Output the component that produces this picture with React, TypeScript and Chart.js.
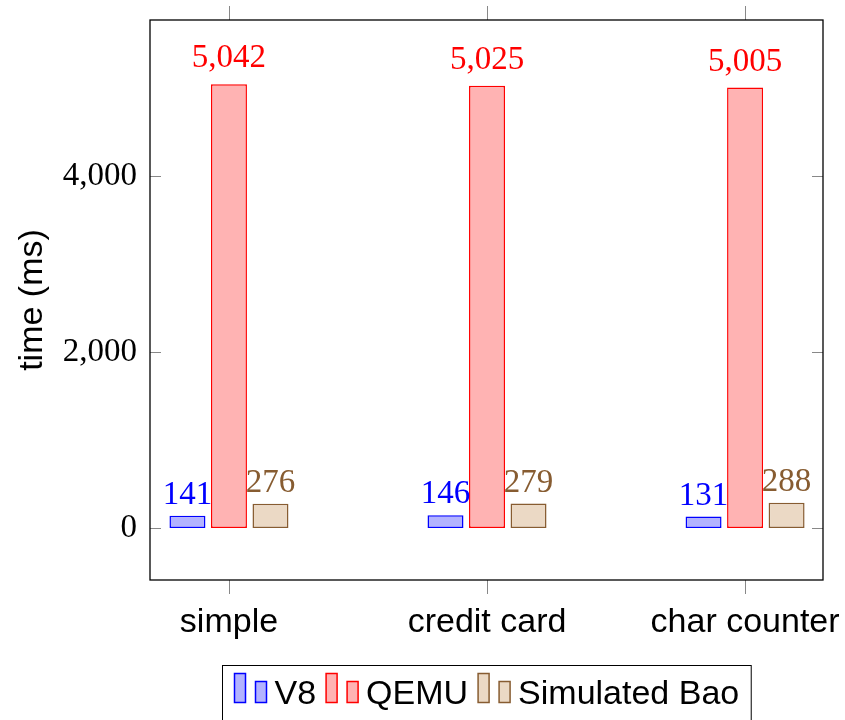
import React, { useEffect, useRef } from "react";
import { Chart, registerables } from "chart.js";

Chart.register(...registerables);

// ---- data ----
const categories = ["simple", "credit card", "char counter"];
const seriesNames = ["V8", "QEMU", "Simulated Bao"];
const v8Times = [141, 146, 131];
const qemuTimes = [5042, 5025, 5005];
const baoTimes = [276, 279, 288];
const yTickValues = [0, 2000, 4000];
const yAxisTitle = "time (ms)";

// ---- styling ----
const fills = ["#b3b3ff", "#ffb3b3", "#ebd9c5"];
const strokes = ["#0000ff", "#ff0000", "#875c31"];
const SANS = "'Liberation Sans', Arial, sans-serif";
const SERIF = "'Liberation Serif', 'Times New Roman', serif";

const fmt = (v: number) => v.toLocaleString("en-US");

const zeroPad = (s: any) => {
  s.paddingTop = 0;
  s.paddingBottom = 0;
  s.paddingLeft = 0;
  s.paddingRight = 0;
};

const framePlugin = {
  id: "frame",
  afterDraw(chart: any) {
    const { ctx, chartArea: a, scales } = chart;
    ctx.save();
    ctx.strokeStyle = "#888888";
    ctx.lineWidth = 1;
    const xs = scales.x;
    xs.ticks.forEach((t: any) => {
      const px = Math.round(xs.getPixelForValue(t.value)) + 0.5;
      ctx.beginPath();
      ctx.moveTo(px, a.top - 14);
      ctx.lineTo(px, a.top);
      ctx.moveTo(px, a.bottom);
      ctx.lineTo(px, a.bottom + 14);
      ctx.stroke();
    });
    const ys = scales.y;
    ys.ticks.forEach((t: any) => {
      const py = Math.round(ys.getPixelForValue(t.value)) + 0.5;
      ctx.beginPath();
      ctx.moveTo(a.left, py);
      ctx.lineTo(a.left + 11, py);
      ctx.moveTo(a.right - 11, py);
      ctx.lineTo(a.right, py);
      ctx.stroke();
    });
    ctx.strokeStyle = "#000000";
    ctx.lineWidth = 1.3;
    ctx.strokeRect(a.left, a.top, a.right - a.left, a.bottom - a.top);
    ctx.restore();
  },
};

const valueLabelPlugin = {
  id: "valueLabels",
  afterDatasetsDraw(chart: any) {
    const { ctx } = chart;
    ctx.save();
    ctx.font = `33px ${SERIF}`;
    ctx.textAlign = "center";
    ctx.textBaseline = "alphabetic";
    chart.data.datasets.forEach((ds: any, di: number) => {
      const meta = chart.getDatasetMeta(di);
      ctx.fillStyle = ds.borderColor;
      meta.data.forEach((el: any, i: number) => {
        const txt = fmt(ds.data[i].y);
        const m = ctx.measureText(txt);
        const desc = Math.max(0, m.actualBoundingBoxDescent || 0);
        ctx.fillText(txt, el.x, el.y - 12 - desc);
      });
    });
    ctx.restore();
  },
};

const legendPlugin = {
  id: "boxLegend",
  afterDraw(chart: any) {
    const { ctx, chartArea: a } = chart;
    ctx.save();
    ctx.font = `34px ${SANS}`;
    const iconW = 11;
    const widths = chart.data.datasets.map((ds: any) => ctx.measureText(ds.label).width);
    const itemW = widths.map((w: number) => iconW + 10 + iconW + 8 + w);
    const gap = 10;
    const pad = 12;
    const total = itemW.reduce((s: number, w: number) => s + w, 0) + gap * (itemW.length - 1) + pad * 2;
    const cx = (a.left + a.right) / 2;
    const left = Math.round(cx - total / 2) + 0.5;
    const top = Math.round(a.bottom + 85) + 0.5;
    ctx.fillStyle = "#ffffff";
    ctx.fillRect(left, top, total, 80);
    ctx.strokeStyle = "#000000";
    ctx.lineWidth = 1;
    ctx.strokeRect(left, top, total, 80);
    let x = left + pad;
    chart.data.datasets.forEach((ds: any, i: number) => {
      ctx.fillStyle = ds.backgroundColor;
      ctx.strokeStyle = ds.borderColor;
      ctx.lineWidth = 1.5;
      ctx.fillRect(x, top + 8, iconW, 29);
      ctx.strokeRect(x, top + 8, iconW, 29);
      const x2 = x + iconW + 10;
      ctx.fillRect(x2, top + 16, iconW, 21);
      ctx.strokeRect(x2, top + 16, iconW, 21);
      ctx.fillStyle = "#000000";
      ctx.textAlign = "left";
      ctx.textBaseline = "alphabetic";
      ctx.fillText(ds.label, x2 + iconW + 8, top + 38);
      x += itemW[i] + gap;
    });
    ctx.restore();
  },
};

export default function App() {
  const ref = useRef<HTMLCanvasElement | null>(null);

  useEffect(() => {
    const canvas = ref.current;
    if (!canvas) return;
    const series = [v8Times, qemuTimes, baoTimes];
    const chart = new Chart(canvas, {
      type: "bar",
      data: {
        datasets: series.map((vals, k) => ({
          label: seriesNames[k],
          data: vals.map((y, i) => ({ x: i, y })),
          backgroundColor: fills[k],
          borderColor: strokes[k],
          borderWidth: 1.5,
          borderSkipped: false,
        })),
      },
      options: {
        responsive: false,
        animation: false,
        devicePixelRatio: 1,
        layout: { padding: { top: 20, right: 22, left: 0, bottom: 0 } },
        datasets: { bar: { categoryPercentage: 0.4826, barPercentage: 0.867 } },
        plugins: { legend: { display: false }, tooltip: { enabled: false } },
        scales: {
          x: {
            type: "linear",
            offset: false,
            min: -0.306,
            max: 2.302,
            grid: { display: false, drawTicks: false, offset: false },
            border: { display: false },
            afterBuildTicks: (s: any) => {
              s.ticks = categories.map((_, i) => ({ value: i }));
            },
            afterFit: (s: any) => {
              s.height = 140;
              zeroPad(s);
            },
            ticks: {
              autoSkip: false,
              maxRotation: 0,
              minRotation: 0,
              padding: 22,
              color: "#000000",
              font: { family: SANS, size: 34 },
              callback: (v: any) => categories[v] ?? "",
            },
          },
          y: {
            min: -590,
            max: 5773,
            grid: { display: false, drawTicks: false },
            border: { display: false },
            afterBuildTicks: (s: any) => {
              s.ticks = yTickValues.map((v) => ({ value: v }));
            },
            afterFit: (s: any) => {
              s.width = 150;
              zeroPad(s);
            },
            ticks: {
              padding: 13,
              color: "#000000",
              font: { family: SERIF, size: 33 },
              callback: (v: any) => fmt(Number(v)),
            },
            title: {
              display: true,
              text: yAxisTitle,
              color: "#000000",
              font: { family: SANS, size: 34 },
              padding: { top: 12, bottom: 0 },
            },
          },
        },
      },
      plugins: [framePlugin, valueLabelPlugin, legendPlugin],
    } as any);
    return () => chart.destroy();
  }, []);

  return (
    <div style={{ position: "fixed", left: 0, top: 0, width: 845, height: 720, background: "#fff" }}>
      <canvas ref={ref} width={845} height={720} style={{ display: "block", width: 845, height: 720 }} />
    </div>
  );
}
